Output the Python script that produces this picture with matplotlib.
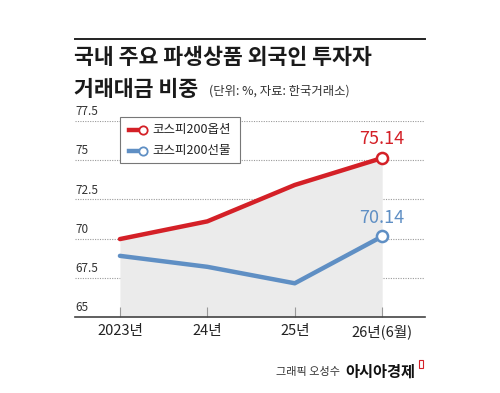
# 국내 주요 파생상품 외국인 투자자 거래대금 비중 line chart

import matplotlib.pyplot as plt
from matplotlib.lines import Line2D
from matplotlib.patches import Rectangle

plt.rcParams['font.family'] = ['Noto Sans CJK KR', 'DejaVu Sans']

years = ["2023년", "24년", "25년", "26년(6월)"]
option_share = [69.97, 71.1, 73.42, 75.14]   # 코스피200옵션
future_share = [68.9, 68.2, 67.15, 70.14]    # 코스피200선물
y_ticks = [65, 67.5, 70, 72.5, 75, 77.5]
y_tick_labels = ["65", "67.5", "70", "72.5", "75", "77.5"]

red = "#d42027"
blue = "#5f8fc4"
W, H = 500, 393


def fx(x):
    return x / W


def fy(y):
    return 1 - y / H


fig = plt.figure(figsize=(5, 3.93), dpi=100)
fig.patch.set_facecolor("white")
ax = fig.add_axes([fx(75), fy(317), fx(425) - fx(75), fy(121) - fy(317)])

xs = list(range(len(years)))

# shaded area under the option line
ax.fill_between(xs, option_share, 65, color="#ebebeb", lw=0, zorder=1)

# dotted grid lines
for v in y_ticks[1:]:
    ax.axhline(v, color="#9a9a9a", lw=0.8, ls=(0, (1, 1.2)), zorder=0.5)
for v, lab in zip(y_ticks, y_tick_labels):
    ax.annotate(lab, xy=(0, v), xycoords=("axes fraction", "data"),
                xytext=(0, 2), textcoords="offset points",
                ha="left", va="bottom", fontsize=8.5, color="#333333")

ax.plot(xs, option_share, color=red, lw=3.2, solid_capstyle="round", zorder=3)
ax.plot(xs, future_share, color=blue, lw=3.2, solid_capstyle="round", zorder=3)
ax.plot(xs[-1], option_share[-1], "o", ms=8, mfc="white", mec=red, mew=1.8,
        zorder=4, clip_on=False)
ax.plot(xs[-1], future_share[-1], "o", ms=8, mfc="white", mec=blue, mew=1.8,
        zorder=4, clip_on=False)

ax.annotate(f"{option_share[-1]:.2f}", (xs[-1], option_share[-1]),
            xytext=(0, 7), textcoords="offset points", ha="center",
            va="bottom", fontsize=13, color=red)
ax.annotate(f"{future_share[-1]:.2f}", (xs[-1], future_share[-1]),
            xytext=(0, 7), textcoords="offset points", ha="center",
            va="bottom", fontsize=13, color=blue)

ax.set_xlim(-0.514, 3.49)
ax.set_ylim(65, 77.5)
ax.set_facecolor("none")
ax.set_xticks(xs)
ax.set_xticklabels(years, fontsize=10.5, color="#222222")
ax.set_yticks([])
ax.tick_params(axis="x", direction="in", length=7, color="#999999", pad=5)
for s in ["top", "right", "left"]:
    ax.spines[s].set_visible(False)
ax.spines["bottom"].set_color("#444444")
ax.spines["bottom"].set_linewidth(1.2)

# legend box
fig.add_artist(Rectangle((fx(120), fy(163)), fx(240) - fx(120), fy(117) - fy(163),
                         transform=fig.transFigure, fc="white", ec="#777777",
                         lw=0.8, zorder=5))
for ycoord, col, name in [(130, red, "코스피200옵션"), (151, blue, "코스피200선물")]:
    fig.add_artist(Line2D([fx(129), fx(140)], [fy(ycoord), fy(ycoord)],
                          color=col, lw=3.2, transform=fig.transFigure, zorder=6))
    fig.add_artist(Line2D([fx(143)], [fy(ycoord)], marker="o", ms=6,
                          mfc="white", mec=col, mew=1.3,
                          transform=fig.transFigure, zorder=7))
    fig.text(fx(152), fy(ycoord), name, fontsize=9, color="#222222",
             ha="left", va="center", zorder=7)

# title block
fig.add_artist(Line2D([fx(75), fx(425)], [fy(39), fy(39)], color="#222222",
                      lw=1.4, transform=fig.transFigure))
fig.text(fx(74), fy(58), "국내 주요 파생상품 외국인 투자자", fontsize=15.6,
         fontweight="bold", color="#1a1a1a", ha="left", va="center")
fig.text(fx(74), fy(89), "거래대금 비중", fontsize=15.6,
         fontweight="bold", color="#1a1a1a", ha="left", va="center")
fig.text(fx(209), fy(91), "(단위: %, 자료: 한국거래소)", fontsize=8.9,
         color="#333333", ha="left", va="center")

# credit
fig.text(fx(340), fy(372), "그래픽 오성수", fontsize=8, color="#333333",
         ha="right", va="center")
fig.text(fx(345), fy(372), "아시아경제", fontsize=11, fontweight="bold",
         color="#111111", ha="left", va="center")
fig.add_artist(Rectangle((fx(419), fy(368)), fx(4), fy(360) - fy(368),
                         transform=fig.transFigure, fc="white", ec=red, lw=0.8))

fig.savefig("out.png", dpi=100, facecolor="white")
